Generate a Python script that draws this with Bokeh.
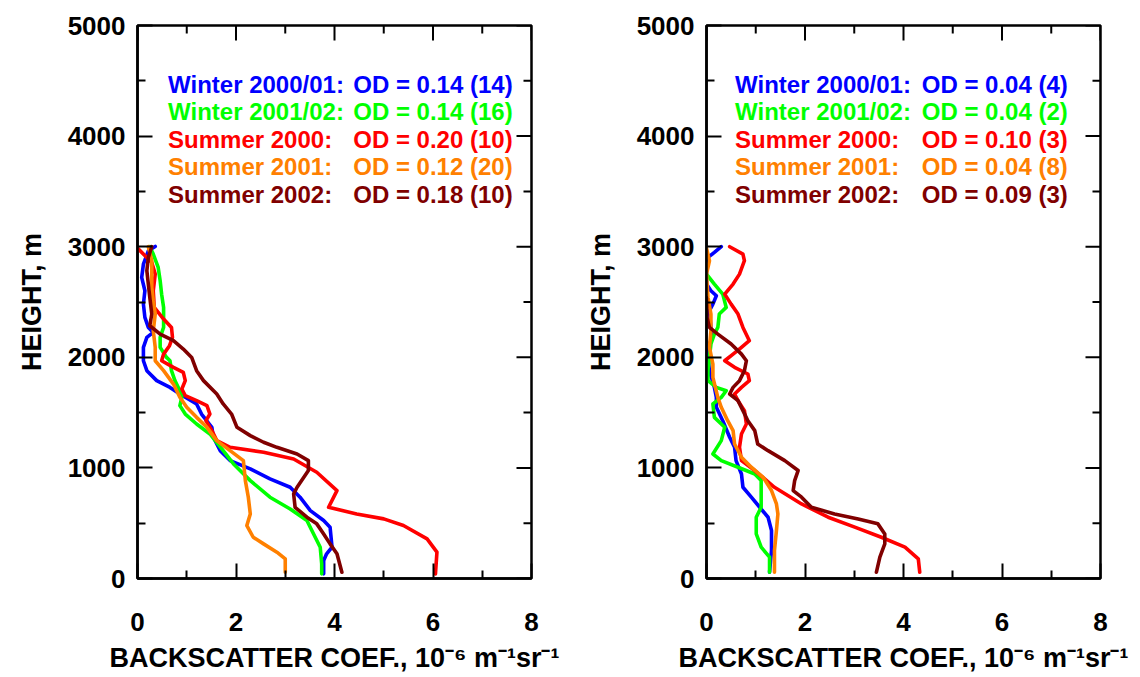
from bokeh.plotting import figure
from bokeh.models import Range1d, FixedTicker
from bokeh.layouts import row
from bokeh.core.properties import value
from bokeh.embed import file_html
from bokeh.resources import INLINE

# ---------------- data ----------------
seasons = ["Winter 2000/01:", "Winter 2001/02:", "Summer 2000:", "Summer 2001:", "Summer 2002:"]
colors = ["#0000ff", "#00ff00", "#ff0000", "#ff8000", "#800000"]
od_left = ["OD = 0.14 (14)", "OD = 0.14 (16)", "OD = 0.20 (10)", "OD = 0.12 (20)", "OD = 0.18 (10)"]
od_right = ["OD = 0.04 (4)", "OD = 0.04 (2)", "OD = 0.10 (3)", "OD = 0.04 (8)", "OD = 0.09 (3)"]
x_ticks = [0, 2, 4, 6, 8]
x_minor = [1, 3, 5, 7]
y_ticks = [0, 1000, 2000, 3000, 4000, 5000]
y_minor = [500, 1500, 2500, 3500, 4500]

# Left panel
L_w1_x = [0.36, 0.22, 0.12, 0.085, 0.15, 0.12, 0.15, 0.22, 0.32, 0.19, 0.12, 0.12, 0.19, 0.39, 0.66, 0.86,
          1.20, 1.30, 1.51, 1.54, 1.68, 1.88, 2.29, 2.69, 3.10, 3.30, 3.51, 3.78, 3.91, 3.95, 3.84, 3.78, 3.78]
L_w1_h = [3002, 2963, 2842, 2722, 2602, 2481, 2361, 2270, 2225, 2180, 2090, 1969, 1879, 1789, 1728, 1668,
          1578, 1487, 1367, 1277, 1156, 1066, 991, 900, 825, 735, 614, 524, 464, 283, 223, 163, 42]
L_w2_x = [0.25, 0.32, 0.42, 0.46, 0.49, 0.53, 0.53, 0.46, 0.46, 0.59, 0.66, 0.69, 0.76, 0.86, 0.90, 0.86,
          0.97, 1.20, 1.47, 1.74, 1.95, 2.29, 2.69, 3.10, 3.44, 3.54, 3.71, 3.74, 3.74]
L_w2_h = [3000, 2933, 2812, 2692, 2571, 2451, 2270, 2180, 2090, 1999, 1969, 1879, 1789, 1698, 1638, 1563,
          1487, 1397, 1307, 1156, 1036, 885, 735, 629, 524, 434, 283, 132, 42]
L_s0_x = [0.00, 0.29, 0.36, 0.32, 0.34, 0.53, 0.69, 0.71, 0.65, 0.53, 0.49, 0.73, 0.93, 0.97, 0.90, 0.97,
          1.20, 1.41, 1.47, 1.39, 1.51, 1.61, 1.88, 2.56, 3.17, 3.64, 4.05, 3.88, 4.45, 5.00, 5.40, 5.88,
          6.08, 6.05]
L_s0_h = [2987, 2857, 2752, 2602, 2451, 2346, 2270, 2180, 2105, 2029, 1969, 1909, 1864, 1789, 1713, 1653,
          1608, 1563, 1487, 1427, 1337, 1247, 1186, 1141, 1081, 961, 795, 644, 584, 539, 479, 358,
          238, 42]
L_s1_x = [0.22, 0.29, 0.29, 0.29, 0.32, 0.36, 0.32, 0.36, 0.36, 0.53, 0.73, 0.86, 1.00, 1.20, 1.41, 1.61,
          1.88, 2.15, 2.19, 2.25, 2.29, 2.22, 2.35, 2.56, 2.83, 3.00, 3.00]
L_s1_h = [3000, 2873, 2752, 2632, 2511, 2391, 2240, 2090, 1969, 1879, 1758, 1638, 1548, 1457, 1367, 1247,
          1156, 1066, 885, 735, 584, 479, 373, 313, 238, 178, 57]
L_s2_x = [0.29, 0.22, 0.19, 0.22, 0.25, 0.29, 0.25, 0.46, 0.73, 0.93, 1.10, 1.20, 1.34, 1.61, 1.74, 1.91,
          2.02, 2.29, 2.56, 2.83, 3.24, 3.47, 3.47, 3.24, 3.17, 3.20, 3.44, 3.64, 3.78, 3.91, 4.05, 4.15]
L_s2_h = [3000, 2903, 2782, 2662, 2541, 2391, 2285, 2210, 2150, 2075, 1999, 1879, 1789, 1668, 1578, 1487,
          1367, 1292, 1232, 1186, 1126, 1066, 976, 825, 765, 644, 554, 494, 403, 313, 223, 57]

# Right panel
R_w1_x = [0.30, 0.16, 0.03, 0.00, 0.00, 0.09, 0.20, 0.13, 0.06, 0.09, 0.13, 0.06, 0.03, 0.06, 0.16, 0.20,
          0.20, 0.33, 0.47, 0.57, 0.60, 0.71, 0.74, 0.91, 1.08, 1.25, 1.32, 1.32, 1.28]
R_w1_h = [3000, 2948, 2903, 2842, 2662, 2602, 2556, 2481, 2421, 2270, 2210, 2120, 1999, 1879, 1728, 1638,
          1548, 1427, 1277, 1186, 1066, 945, 825, 735, 644, 554, 434, 253, 57]
R_w2_x = [0.00, 0.16, 0.33, 0.40, 0.26, 0.23, 0.16, 0.09, 0.06, 0.03, 0.03, 0.20, 0.40, 0.30, 0.13, 0.16,
          0.37, 0.30, 0.13, 0.30, 0.64, 0.98, 1.11, 1.11, 1.01, 1.01, 1.11, 1.28, 1.28]
R_w2_h = [2752, 2662, 2571, 2451, 2391, 2270, 2210, 2120, 1999, 1879, 1789, 1728, 1698, 1638, 1578, 1457,
          1367, 1247, 1126, 1066, 1006, 945, 885, 644, 554, 403, 283, 193, 57]
R_s0_x = [0.47, 0.74, 0.77, 0.67, 0.54, 0.37, 0.50, 0.64, 0.74, 0.87, 0.71, 0.54, 0.37, 0.57, 0.84, 0.87,
          0.71, 0.57, 0.64, 0.77, 0.81, 0.71, 0.67, 0.71, 0.98, 1.38, 1.93, 2.47, 3.01, 3.55, 4.03, 4.30, 4.33]
R_s0_h = [3000, 2933, 2873, 2752, 2662, 2571, 2481, 2391, 2270, 2150, 2090, 2029, 1969, 1909, 1849, 1789,
          1728, 1668, 1608, 1518, 1397, 1307, 1186, 1066, 976, 825, 674, 554, 464, 373, 283, 178, 57]
R_s1_x = [0.00, 0.06, 0.00, 0.03, 0.09, 0.09, 0.06, 0.13, 0.13, 0.23, 0.30, 0.43, 0.54, 0.57, 0.71, 0.91,
          1.15, 1.32, 1.42, 1.45, 1.42, 1.38, 1.38]
R_s1_h = [2987, 2873, 2752, 2541, 2391, 2240, 2090, 1939, 1819, 1638, 1548, 1427, 1337, 1216, 1096, 1006,
          915, 795, 674, 584, 434, 253, 57]
R_s2_x = [0.00, 0.01, 0.06, 0.23, 0.50, 0.71, 0.81, 0.77, 0.67, 0.54, 0.47, 0.64, 0.74, 0.84, 0.98, 1.04,
          1.25, 1.59, 1.86, 1.79, 1.76, 1.93, 2.13, 2.60, 3.08, 3.48, 3.62, 3.62, 3.52, 3.45]
R_s2_h = [2541, 2361, 2270, 2210, 2120, 2029, 1969, 1879, 1789, 1728, 1668, 1608, 1518, 1427, 1337, 1216,
          1156, 1066, 976, 885, 795, 735, 644, 584, 539, 494, 403, 313, 193, 57]

left_series = [(L_w1_x, L_w1_h), (L_w2_x, L_w2_h), (L_s0_x, L_s0_h), (L_s1_x, L_s1_h), (L_s2_x, L_s2_h)]
right_series = [(R_w1_x, R_w1_h), (R_w2_x, R_w2_h), (R_s0_x, R_s0_h), (R_s1_x, R_s1_h), (R_s2_x, R_s2_h)]
legend_rows_y = [4463, 4219, 3966, 3722, 3469]

FONT = "Liberation Sans"
X_LABEL = "BACKSCATTER COEF., 10\u207b\u2076 m\u207b\u00b9sr\u207b\u00b9"
X_MAX = 8
Y_MAX = 5000
FRAME_W = 394
FRAME_H = 553
MAJOR_LEN = 15
MINOR_LEN = 8


def make_panel(series, od_texts, border_left, border_right, lx, odx):
    p = figure(frame_width=FRAME_W, frame_height=FRAME_H, output_backend="svg", toolbar_location=None,
               x_range=Range1d(0, X_MAX), y_range=Range1d(0, Y_MAX),
               min_border_left=border_left, min_border_right=border_right,
               min_border_top=25, min_border_bottom=20,
               background_fill_color="white", border_fill_color="white")
    p.grid.visible = False
    p.outline_line_color = "black"
    p.outline_line_width = 2.5

    p.xaxis.ticker = FixedTicker(ticks=x_ticks, minor_ticks=x_minor)
    p.yaxis.ticker = FixedTicker(ticks=y_ticks, minor_ticks=y_minor)

    for ax in (p.xaxis[0], p.yaxis[0]):
        ax.major_tick_in = MAJOR_LEN
        ax.major_tick_out = 0
        ax.minor_tick_in = MINOR_LEN
        ax.minor_tick_out = 0
        ax.major_tick_line_width = 2
        ax.minor_tick_line_width = 2
        ax.axis_line_width = 2.5
        ax.major_label_text_font = FONT
        ax.major_label_text_font_style = "bold"
        ax.major_label_text_font_size = "26px"
        ax.major_label_text_color = "black"
        ax.axis_label_text_font = FONT
        ax.axis_label_text_font_style = "bold"
        ax.axis_label_text_color = "black"

    p.xaxis.axis_label = X_LABEL
    p.xaxis.axis_label_text_font_size = "27px"
    p.yaxis.axis_label = "HEIGHT, m"
    p.yaxis.axis_label_text_font_size = "27px"
    p.xaxis.major_label_standoff = 34
    p.xaxis.axis_label_standoff = 9
    p.yaxis.major_label_standoff = 12
    p.yaxis.axis_label_standoff = 18

    # inward ticks on the top and right edges of the frame
    dy_major = MAJOR_LEN * Y_MAX / FRAME_H
    dy_minor = MINOR_LEN * Y_MAX / FRAME_H
    dx_major = MAJOR_LEN * X_MAX / FRAME_W
    dx_minor = MINOR_LEN * X_MAX / FRAME_W
    p.segment(x0=x_ticks, y0=[Y_MAX] * len(x_ticks), x1=x_ticks, y1=[Y_MAX - dy_major] * len(x_ticks),
              line_color="black", line_width=2)
    p.segment(x0=x_minor, y0=[Y_MAX] * len(x_minor), x1=x_minor, y1=[Y_MAX - dy_minor] * len(x_minor),
              line_color="black", line_width=2)
    p.segment(x0=[X_MAX] * len(y_ticks), y0=y_ticks, x1=[X_MAX - dx_major] * len(y_ticks), y1=y_ticks,
              line_color="black", line_width=2)
    p.segment(x0=[X_MAX] * len(y_minor), y0=y_minor, x1=[X_MAX - dx_minor] * len(y_minor), y1=y_minor,
              line_color="black", line_width=2)

    for (xs, hs), c in zip(series, colors):
        p.line(xs, hs, line_color=c, line_width=3.6, line_join="round", line_cap="round")

    p.text(x=[lx] * 5, y=legend_rows_y, text=seasons, text_color=colors,
           text_font=value(FONT), text_font_style="bold", text_font_size="24px",
           text_baseline="middle", text_align="left")
    p.text(x=[odx] * 5, y=legend_rows_y, text=od_texts, text_color=colors,
           text_font=value(FONT), text_font_style="bold", text_font_size="24px",
           text_baseline="middle", text_align="left")
    return p


p1 = make_panel(left_series, od_left, 137, 40, 0.62, 4.38)
p2 = make_panel(right_series, od_right, 135, 40, 0.58, 4.37)

layout = row(p1, p2)
open("out.html", "w").write(file_html(layout, INLINE))
